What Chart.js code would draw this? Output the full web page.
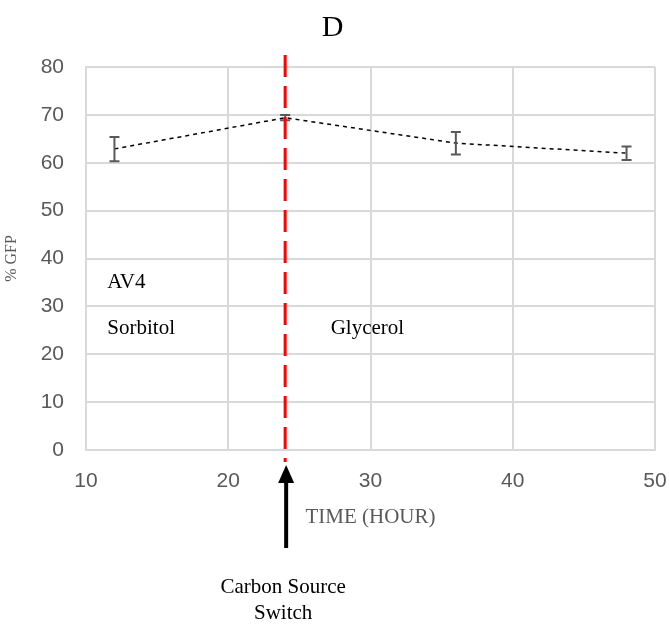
<!DOCTYPE html>
<html>
<head>
<meta charset="utf-8">
<script src="https://cdn.jsdelivr.net/npm/chart.js@4.4.0/dist/chart.umd.min.js"></script>
<style>
  html, body { margin: 0; padding: 0; background: #fff; }
  #wrap { width: 669px; height: 625px; }
</style>
</head>
<body>
<div id="wrap"><canvas id="chart"></canvas></div>
<script>
// values
const hours = [12, 24, 36, 48];
const gfp = [62.9, 69.4, 64.1, 62.0];
const errLow = [60.3, 68.9, 61.7, 60.6];
const errHigh = [65.4, 70.0, 66.4, 63.4];
const switchHour = 24;

const serif = '"Liberation Serif", "Times New Roman", serif';
const sans = '"Liberation Sans", Arial, sans-serif';

const extras = {
  id: 'extras',
  afterDatasetsDraw(chart) {
    const { ctx, chartArea, scales: { x, y } } = chart;
    ctx.save();

    // error bars
    ctx.strokeStyle = '#595959';
    ctx.lineWidth = 2;
    hours.forEach((h, i) => {
      const px = x.getPixelForValue(h);
      const top = y.getPixelForValue(errHigh[i]);
      const bot = y.getPixelForValue(errLow[i]);
      ctx.beginPath();
      ctx.moveTo(px, top); ctx.lineTo(px, bot);
      ctx.moveTo(px - 5, top); ctx.lineTo(px + 5, top);
      ctx.moveTo(px - 5, bot); ctx.lineTo(px + 5, bot);
      ctx.stroke();
    });

    // carbon source switch line
    const sx = x.getPixelForValue(switchHour);
    ctx.strokeStyle = '#ff0000';
    ctx.lineWidth = 3;
    ctx.setLineDash([22, 9]);
    ctx.beginPath();
    ctx.moveTo(sx, chartArea.top - 12);
    ctx.lineTo(sx, chartArea.bottom + 12);
    ctx.stroke();
    ctx.setLineDash([]);

    // arrow
    const ax = sx + 1;
    ctx.strokeStyle = '#000';
    ctx.fillStyle = '#000';
    ctx.lineWidth = 4;
    ctx.beginPath();
    ctx.moveTo(ax, chartArea.bottom + 98);
    ctx.lineTo(ax, chartArea.bottom + 30);
    ctx.stroke();
    ctx.beginPath();
    ctx.moveTo(ax, chartArea.bottom + 15);
    ctx.lineTo(ax - 8, chartArea.bottom + 33);
    ctx.lineTo(ax + 8, chartArea.bottom + 33);
    ctx.closePath();
    ctx.fill();

    // text labels
    ctx.font = '21px ' + serif;
    ctx.textBaseline = 'middle';
    ctx.textAlign = 'left';
    ctx.fillText('AV4', x.getPixelForValue(11.5), y.getPixelForValue(34.9));
    ctx.fillText('Sorbitol', x.getPixelForValue(11.5), y.getPixelForValue(25.3));
    ctx.fillText('Glycerol', x.getPixelForValue(27.2), y.getPixelForValue(25.3));
    ctx.textAlign = 'center';
    ctx.fillText('Carbon Source', ax - 3, chartArea.bottom + 137);
    ctx.fillText('Switch', ax - 3, chartArea.bottom + 163);

    ctx.restore();
  }
};

new Chart(document.getElementById('chart'), {
  type: 'scatter',
  data: {
    datasets: [{
      data: hours.map((h, i) => ({ x: h, y: gfp[i] })),
      showLine: true,
      borderColor: '#000',
      borderWidth: 1.5,
      borderDash: [4, 4],
      pointRadius: 0,
      fill: false
    }]
  },
  options: {
    responsive: true,
    maintainAspectRatio: false,
    animation: false,
    layout: { padding: { left: 0, right: 4, top: 0, bottom: 95 } },
    plugins: {
      legend: { display: false },
      tooltip: { enabled: false },
      title: {
        display: true,
        text: 'D',
        color: '#000',
        font: { family: serif, size: 30, weight: 'normal' },
        padding: { top: 10, bottom: 21 }
      }
    },
    scales: {
      x: {
        type: 'linear',
        min: 10, max: 50,
        ticks: { stepSize: 10, color: '#595959', font: { family: sans, size: 21 }, padding: 19 },
        grid: { color: '#d9d9d9', lineWidth: 2, drawTicks: false },
        border: { color: '#d9d9d9', width: 2 },
        title: { display: true, text: 'TIME (HOUR)', color: '#595959', font: { family: serif, size: 21 }, padding: { top: 4, bottom: 0 } },
        afterFit(scale) {
          scale.height = 80;
          scale.paddingLeft = 0;
          scale.paddingRight = 14;
        }
      },
      y: {
        min: 0, max: 80,
        ticks: { stepSize: 10, color: '#595959', font: { family: sans, size: 21 }, padding: 22 },
        grid: { color: '#d9d9d9', lineWidth: 2, drawTicks: false },
        border: { color: '#d9d9d9', width: 2 },
        title: { display: true, text: '% GFP', color: '#595959', font: { family: serif, size: 16 }, padding: { top: 2, bottom: 2 } },
        afterFit(scale) { scale.width = 86; }
      }
    }
  },
  plugins: [extras]
});
</script>
</body>
</html>
